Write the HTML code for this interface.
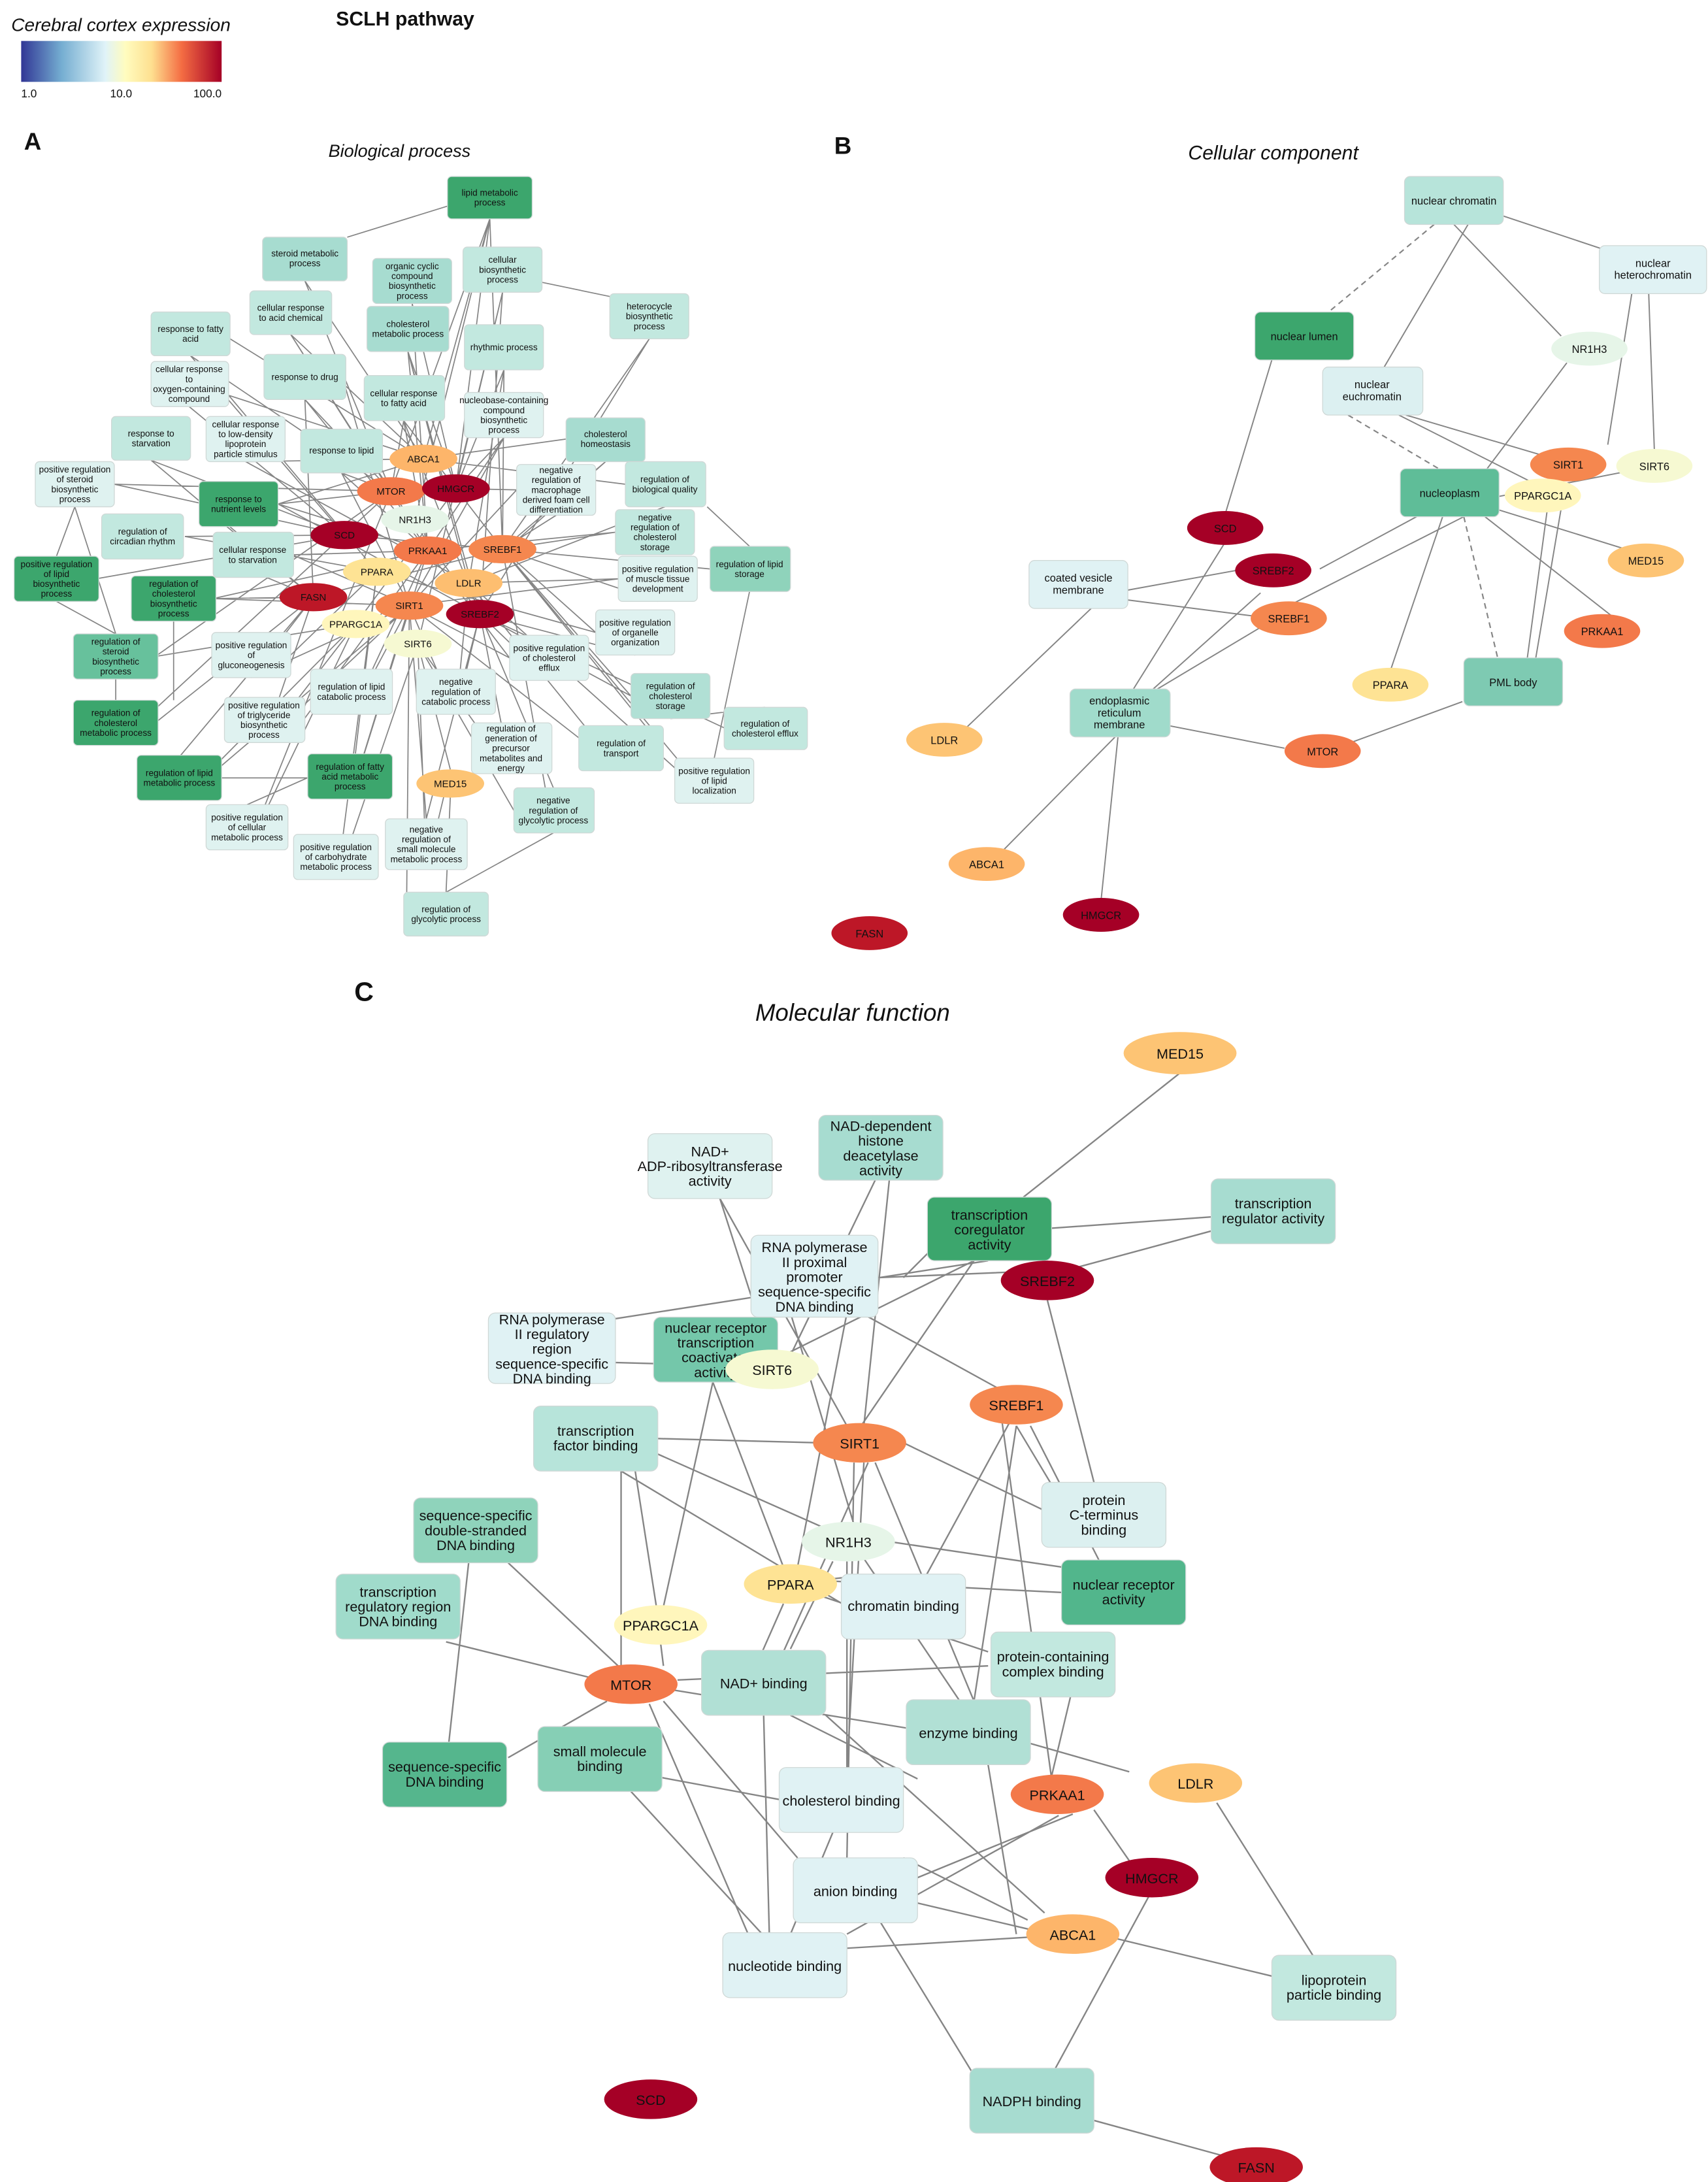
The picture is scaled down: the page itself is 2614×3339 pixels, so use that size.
<!DOCTYPE html>
<html><head><meta charset="utf-8"><style>
html,body{margin:0;padding:0;background:#fff}
svg{display:block}
text{font-family:"Liberation Sans",sans-serif;fill:#111}
.a{font-size:6.3px;text-anchor:middle}
.b{font-size:7.6px;text-anchor:middle}
.c{font-size:10px;text-anchor:middle}
.n{stroke:#cfd8d6;stroke-width:0.6}
</style></head><body>
<svg width="2614" height="3339" viewBox="0 0 1210 1545.6" preserveAspectRatio="none" xmlns="http://www.w3.org/2000/svg">
<defs>
<linearGradient id="cb" x1="0" x2="1" y1="0" y2="0">
<stop offset="0" stop-color="#313695"/><stop offset="0.2" stop-color="#74add1"/><stop offset="0.42" stop-color="#e0f3f8"/><stop offset="0.52" stop-color="#fffcbf"/><stop offset="0.65" stop-color="#fee090"/><stop offset="0.8" stop-color="#f46d43"/><stop offset="1" stop-color="#a50026"/>
</linearGradient>
</defs>
<rect width="1210" height="1546" fill="#fff"/>
<text x="8" y="22" style="font-size:13px;font-style:italic">Cerebral cortex expression</text>
<rect x="15" y="29" width="142" height="29" fill="url(#cb)"/>
<text x="15" y="69" style="font-size:8px">1.0</text>
<text x="78" y="69" style="font-size:8px">10.0</text>
<text x="137" y="69" style="font-size:8px">100.0</text>
<text x="238" y="18" style="font-size:14px;font-weight:bold">SCLH pathway</text>
<text x="17" y="106" style="font-size:17px;font-weight:bold">A</text>
<text x="283" y="111" style="font-size:12.5px;font-style:italic;text-anchor:middle">Biological process</text>
<text x="591" y="109" style="font-size:17px;font-weight:bold">B</text>
<text x="902" y="113" style="font-size:14px;font-style:italic;text-anchor:middle">Cellular component</text>
<text x="251" y="709" style="font-size:19px;font-weight:bold">C</text>
<text x="604" y="723" style="font-size:17px;font-style:italic;text-anchor:middle">Molecular function</text>

<!-- Panel A edges -->
<path fill="none" stroke="#858585" stroke-width="0.8" d="
M347 155L300 325M347 155L323 346M347 155L277 348M347 155L356 389M347 155L294 368M317 146L246 168
M216 199L300 325M216 199L277 348M292 215L323 346M292 215L303 390M356 207L323 346M356 207L340 435M384 200L432 210M356 207L296 456
M460 240L356 389M460 240L340 435M206 237L300 325M206 237L277 348M206 237L303 390
M135 252L277 348M135 252L244 379M163 240L300 325M289 249L323 346M289 249L332 413M289 249L340 435M289 249L303 390
M357 262L323 346M357 262L356 389M357 262L332 413M216 283L277 348M216 283L303 390M216 283L222 423M244 272L290 429
M134 288L244 379M162 280L300 325M162 280L267 405M286 298L277 348M286 298L303 390M286 298L356 389M286 298L340 435
M357 310L323 346M357 310L303 390M357 310L290 429M107 326L244 379M107 326L222 423M174 327L300 325M174 327L332 413
M242 335L277 348M242 335L303 390M242 335L290 429M429 327L332 413M429 327L356 389M401 311L300 325
M81 343L244 379M81 343L277 348M53 359L40 394M53 359L82 449M197 357L300 325M197 357L277 348M197 357L303 390M197 357L340 435M141 357L222 423
M394 365L356 389M366 347L323 346M366 347L290 429M471 359L332 413M443 343L300 325M501 359L531 387
M131 380L244 379M131 380L267 405M207 393L303 390M207 393L290 429M151 393L222 423
M436 377L356 389M436 377L303 390M466 426L356 389M438 410L332 413M438 410L290 429
M68 410L244 379M40 426L82 449M151 424L303 390M151 424L222 423M151 424L290 429M123 440L123 496
M531 419L506 537M503 403L356 389M422 448L356 389M422 448L267 405M450 464L340 435
M110 465L252 442M110 465L277 348M82 481L82 496M178 480L222 423M178 480L290 429M206 464L267 405
M389 482L340 435M361 466L290 429M361 466L303 390M323 506L290 429M323 506L340 435M323 506L332 413
M249 506L290 429M249 506L303 390M187 526L222 423M187 526L252 442M187 526L290 429M215 510L303 390
M475 509L475 477M447 493L340 435M447 493L356 389M82 528L277 348M110 512L222 423
M362 548L296 456M362 548L340 435M440 546L332 413M440 546L290 429M470 530L356 389M514 516L340 435M542 501L475 509
M506 569L356 389M506 569L332 413M128 567L290 429M156 551L220 551M128 567L252 442M128 535L222 423
M248 566L303 390M248 566L267 405M248 566L290 429M220 550L175 570M175 602L252 442M175 602L277 348
M239 623L296 456M239 623L267 405M302 616L296 456M302 616L319 545M302 580L290 429M302 580L340 435
M392 590L356 389M364 574L296 456M392 558L340 435M316 632L392 590M316 632L319 565M288 647L290 429M319 545L296 456
M244 379L356 389M277 348L340 435M222 423L356 389M252 442L323 346"/>

<!-- Panel A nodes -->
<g class="n">
<rect x="317" y="125" width="60" height="30" rx="3" fill="#3ca66d"/>
<rect x="186" y="168" width="60" height="31" rx="3" fill="#a7dcd0"/>
<rect x="264" y="183" width="56" height="32" rx="3" fill="#a7dcd0"/>
<rect x="328" y="175" width="56" height="32" rx="3" fill="#c2e8df"/>
<rect x="432" y="208" width="56" height="32" rx="3" fill="#c2e8df"/>
<rect x="177" y="206" width="58" height="31" rx="3" fill="#c2e8df"/>
<rect x="107" y="221" width="56" height="31" rx="3" fill="#c2e8df"/>
<rect x="260" y="217" width="58" height="32" rx="3" fill="#a7dcd0"/>
<rect x="329" y="230" width="56" height="32" rx="3" fill="#c2e8df"/>
<rect x="187" y="251" width="58" height="32" rx="3" fill="#c2e8df"/>
<rect x="107" y="256" width="55" height="32" rx="3" fill="#dff2f0"/>
<rect x="258" y="266" width="57" height="32" rx="3" fill="#c2e8df"/>
<rect x="329" y="278" width="56" height="32" rx="3" fill="#dff2f0"/>
<rect x="79" y="295" width="56" height="31" rx="3" fill="#c2e8df"/>
<rect x="146" y="295" width="56" height="32" rx="3" fill="#dff2f0"/>
<rect x="213" y="304" width="58" height="31" rx="3" fill="#c2e8df"/>
<rect x="401" y="296" width="56" height="31" rx="3" fill="#a7dcd0"/>
<rect x="25" y="327" width="56" height="32" rx="3" fill="#dff2f0"/>
<rect x="141" y="341" width="56" height="32" rx="3" fill="#3ca66d"/>
<rect x="366" y="329" width="56" height="36" rx="3" fill="#dff2f0"/>
<rect x="443" y="327" width="57" height="32" rx="3" fill="#c2e8df"/>
<rect x="72" y="364" width="58" height="32" rx="3" fill="#c2e8df"/>
<rect x="151" y="377" width="57" height="32" rx="3" fill="#c2e8df"/>
<rect x="436" y="361" width="56" height="32" rx="3" fill="#c2e8df"/>
<rect x="10" y="394" width="60" height="32" rx="3" fill="#3ca66d"/>
<rect x="93" y="408" width="60" height="32" rx="3" fill="#3ca66d"/>
<rect x="438" y="394" width="56" height="32" rx="3" fill="#dff2f0"/>
<rect x="503" y="387" width="57" height="32" rx="3" fill="#8fd3bb"/>
<rect x="422" y="432" width="56" height="32" rx="3" fill="#dff2f0"/>
<rect x="52" y="449" width="60" height="32" rx="3" fill="#67c19c"/>
<rect x="150" y="448" width="56" height="32" rx="3" fill="#dff2f0"/>
<rect x="361" y="450" width="56" height="32" rx="3" fill="#dff2f0"/>
<rect x="295" y="474" width="56" height="32" rx="3" fill="#dff2f0"/>
<rect x="220" y="474" width="58" height="32" rx="3" fill="#dff2f0"/>
<rect x="159" y="494" width="57" height="32" rx="3" fill="#dff2f0"/>
<rect x="447" y="477" width="56" height="32" rx="3" fill="#b1e0d5"/>
<rect x="52" y="496" width="60" height="32" rx="3" fill="#3ca66d"/>
<rect x="334" y="512" width="57" height="36" rx="3" fill="#dff2f0"/>
<rect x="410" y="514" width="60" height="32" rx="3" fill="#c2e8df"/>
<rect x="513" y="501" width="59" height="30" rx="3" fill="#c2e8df"/>
<rect x="478" y="537" width="56" height="32" rx="3" fill="#dff2f0"/>
<rect x="97" y="535" width="60" height="32" rx="3" fill="#3ca66d"/>
<rect x="218" y="534" width="60" height="32" rx="3" fill="#3ca66d"/>
<rect x="146" y="570" width="58" height="32" rx="3" fill="#dff2f0"/>
<rect x="208" y="591" width="60" height="32" rx="3" fill="#dff2f0"/>
<rect x="273" y="580" width="58" height="36" rx="3" fill="#dff2f0"/>
<rect x="364" y="558" width="57" height="32" rx="3" fill="#c2e8df"/>
<rect x="286" y="632" width="60" height="31" rx="3" fill="#c2e8df"/>
</g>
<g>
<text class="a" x="347" y="138.7">lipid metabolic<tspan x="347" dy="7">process</tspan></text>
<text class="a" x="216" y="181.7">steroid metabolic<tspan x="216" dy="7">process</tspan></text>
<text class="a" x="292" y="190.7">organic cyclic<tspan x="292" dy="7">compound</tspan><tspan x="292" dy="7">biosynthetic</tspan><tspan x="292" dy="7">process</tspan></text>
<text class="a" x="356" y="186.2">cellular<tspan x="356" dy="7">biosynthetic</tspan><tspan x="356" dy="7">process</tspan></text>
<text class="a" x="460" y="219.2">heterocycle<tspan x="460" dy="7">biosynthetic</tspan><tspan x="460" dy="7">process</tspan></text>
<text class="a" x="206" y="220.2">cellular response<tspan x="206" dy="7">to acid chemical</tspan></text>
<text class="a" x="135" y="235.2">response to fatty<tspan x="135" dy="7">acid</tspan></text>
<text class="a" x="289" y="231.7">cholesterol<tspan x="289" dy="7">metabolic process</tspan></text>
<text class="a" x="357" y="248.2">rhythmic process</text>
<text class="a" x="216" y="269.2">response to drug</text>
<text class="a" x="134" y="263.7">cellular response<tspan x="134" dy="7">to</tspan><tspan x="134" dy="7">oxygen-containing</tspan><tspan x="134" dy="7">compound</tspan></text>
<text class="a" x="286" y="280.7">cellular response<tspan x="286" dy="7">to fatty acid</tspan></text>
<text class="a" x="357" y="285.7">nucleobase-containing<tspan x="357" dy="7">compound</tspan><tspan x="357" dy="7">biosynthetic</tspan><tspan x="357" dy="7">process</tspan></text>
<text class="a" x="107" y="309.2">response to<tspan x="107" dy="7">starvation</tspan></text>
<text class="a" x="174" y="302.7">cellular response<tspan x="174" dy="7">to low-density</tspan><tspan x="174" dy="7">lipoprotein</tspan><tspan x="174" dy="7">particle stimulus</tspan></text>
<text class="a" x="242" y="321.2">response to lipid</text>
<text class="a" x="429" y="309.7">cholesterol<tspan x="429" dy="7">homeostasis</tspan></text>
<text class="a" x="53" y="334.7">positive regulation<tspan x="53" dy="7">of steroid</tspan><tspan x="53" dy="7">biosynthetic</tspan><tspan x="53" dy="7">process</tspan></text>
<text class="a" x="169" y="355.7">response to<tspan x="169" dy="7">nutrient levels</tspan></text>
<text class="a" x="394" y="335.2">negative<tspan x="394" dy="7">regulation of</tspan><tspan x="394" dy="7">macrophage</tspan><tspan x="394" dy="7">derived foam cell</tspan><tspan x="394" dy="7">differentiation</tspan></text>
<text class="a" x="471" y="341.7">regulation of<tspan x="471" dy="7">biological quality</tspan></text>
<text class="a" x="101" y="378.7">regulation of<tspan x="101" dy="7">circadian rhythm</tspan></text>
<text class="a" x="179" y="391.7">cellular response<tspan x="179" dy="7">to starvation</tspan></text>
<text class="a" x="464" y="368.7">negative<tspan x="464" dy="7">regulation of</tspan><tspan x="464" dy="7">cholesterol</tspan><tspan x="464" dy="7">storage</tspan></text>
<text class="a" x="40" y="401.7">positive regulation<tspan x="40" dy="7">of lipid</tspan><tspan x="40" dy="7">biosynthetic</tspan><tspan x="40" dy="7">process</tspan></text>
<text class="a" x="123" y="415.7">regulation of<tspan x="123" dy="7">cholesterol</tspan><tspan x="123" dy="7">biosynthetic</tspan><tspan x="123" dy="7">process</tspan></text>
<text class="a" x="466" y="405.2">positive regulation<tspan x="466" dy="7">of muscle tissue</tspan><tspan x="466" dy="7">development</tspan></text>
<text class="a" x="531" y="401.7">regulation of lipid<tspan x="531" dy="7">storage</tspan></text>
<text class="a" x="450" y="443.2">positive regulation<tspan x="450" dy="7">of organelle</tspan><tspan x="450" dy="7">organization</tspan></text>
<text class="a" x="82" y="456.7">regulation of<tspan x="82" dy="7">steroid</tspan><tspan x="82" dy="7">biosynthetic</tspan><tspan x="82" dy="7">process</tspan></text>
<text class="a" x="178" y="459.2">positive regulation<tspan x="178" dy="7">of</tspan><tspan x="178" dy="7">gluconeogenesis</tspan></text>
<text class="a" x="389" y="461.2">positive regulation<tspan x="389" dy="7">of cholesterol</tspan><tspan x="389" dy="7">efflux</tspan></text>
<text class="a" x="323" y="485.2">negative<tspan x="323" dy="7">regulation of</tspan><tspan x="323" dy="7">catabolic process</tspan></text>
<text class="a" x="249" y="488.7">regulation of lipid<tspan x="249" dy="7">catabolic process</tspan></text>
<text class="a" x="187" y="501.7">positive regulation<tspan x="187" dy="7">of triglyceride</tspan><tspan x="187" dy="7">biosynthetic</tspan><tspan x="187" dy="7">process</tspan></text>
<text class="a" x="475" y="488.2">regulation of<tspan x="475" dy="7">cholesterol</tspan><tspan x="475" dy="7">storage</tspan></text>
<text class="a" x="82" y="507.2">regulation of<tspan x="82" dy="7">cholesterol</tspan><tspan x="82" dy="7">metabolic process</tspan></text>
<text class="a" x="362" y="518.2">regulation of<tspan x="362" dy="7">generation of</tspan><tspan x="362" dy="7">precursor</tspan><tspan x="362" dy="7">metabolites and</tspan><tspan x="362" dy="7">energy</tspan></text>
<text class="a" x="440" y="528.7">regulation of<tspan x="440" dy="7">transport</tspan></text>
<text class="a" x="542" y="514.7">regulation of<tspan x="542" dy="7">cholesterol efflux</tspan></text>
<text class="a" x="506" y="548.2">positive regulation<tspan x="506" dy="7">of lipid</tspan><tspan x="506" dy="7">localization</tspan></text>
<text class="a" x="127" y="549.7">regulation of lipid<tspan x="127" dy="7">metabolic process</tspan></text>
<text class="a" x="248" y="545.2">regulation of fatty<tspan x="248" dy="7">acid metabolic</tspan><tspan x="248" dy="7">process</tspan></text>
<text class="a" x="175" y="581.2">positive regulation<tspan x="175" dy="7">of cellular</tspan><tspan x="175" dy="7">metabolic process</tspan></text>
<text class="a" x="238" y="602.2">positive regulation<tspan x="238" dy="7">of carbohydrate</tspan><tspan x="238" dy="7">metabolic process</tspan></text>
<text class="a" x="302" y="589.7">negative<tspan x="302" dy="7">regulation of</tspan><tspan x="302" dy="7">small molecule</tspan><tspan x="302" dy="7">metabolic process</tspan></text>
<text class="a" x="392" y="569.2">negative<tspan x="392" dy="7">regulation of</tspan><tspan x="392" dy="7">glycolytic process</tspan></text>
<text class="a" x="316" y="646.2">regulation of<tspan x="316" dy="7">glycolytic process</tspan></text>
</g>
<!-- A genes -->
<g>
<ellipse cx="300" cy="325" rx="24" ry="10" fill="#fdb56a"/><text class="a" x="300" y="327.5" style="font-size:7px">ABCA1</text>
<ellipse cx="277" cy="348" rx="24" ry="10" fill="#f3794a"/><text class="a" x="277" y="350.5" style="font-size:7px">MTOR</text>
<ellipse cx="323" cy="346" rx="24" ry="10" fill="#a50026"/><text class="a" x="323" y="348.5" style="font-size:7px">HMGCR</text>
<ellipse cx="294" cy="368" rx="24" ry="10" fill="#e6f5e8"/><text class="a" x="294" y="370.5" style="font-size:7px">NR1H3</text>
<ellipse cx="244" cy="379" rx="24" ry="10" fill="#a50026"/><text class="a" x="244" y="381.5" style="font-size:7px">SCD</text>
<ellipse cx="303" cy="390" rx="24" ry="10" fill="#f3794a"/><text class="a" x="303" y="392.5" style="font-size:7px">PRKAA1</text>
<ellipse cx="356" cy="389" rx="24" ry="10" fill="#f5874f"/><text class="a" x="356" y="391.5" style="font-size:7px">SREBF1</text>
<ellipse cx="267" cy="405" rx="24" ry="10" fill="#fee394"/><text class="a" x="267" y="407.5" style="font-size:7px">PPARA</text>
<ellipse cx="332" cy="413" rx="24" ry="10" fill="#fdbe70"/><text class="a" x="332" y="415.5" style="font-size:7px">LDLR</text>
<ellipse cx="222" cy="423" rx="24" ry="10" fill="#bd1727"/><text class="a" x="222" y="425.5" style="font-size:7px">FASN</text>
<ellipse cx="290" cy="429" rx="24" ry="10" fill="#f5874f"/><text class="a" x="290" y="431.5" style="font-size:7px">SIRT1</text>
<ellipse cx="340" cy="435" rx="24" ry="10" fill="#a50026"/><text class="a" x="340" y="437.5" style="font-size:7px">SREBF2</text>
<ellipse cx="252" cy="442" rx="24" ry="10" fill="#fff6bc"/><text class="a" x="252" y="444.5" style="font-size:7px">PPARGC1A</text>
<ellipse cx="296" cy="456" rx="24" ry="10" fill="#f6f9d2"/><text class="a" x="296" y="458.5" style="font-size:7px">SIRT6</text>
<ellipse cx="319" cy="555" rx="24" ry="10" fill="#fdc474"/><text class="a" x="319" y="557.5" style="font-size:7px">MED15</text>
</g>

<!-- Panel B edges -->
<path fill="none" stroke="#858585" stroke-width="0.9" d="
M1065 153L1134 176M1040 159L980 261M1030 159L1106 238M1156 208L1139 315M1168 208L1172 319
M901 255L868 364M996 294L1101 325M991 294L1090 344M1110 257L1052 334M1035 349L935 403
M1037 366L915 428M1022 366L985 475M1052 366L1144 438M1058 360L1158 391M1060 352L1152 334
M1096 362L1082 466M1106 360L1088 466M799 418L876 404M799 425L893 437M773 431L685 515
M803 488L868 384M817 488L893 420M820 488L892 445M828 514L910 530M957 526L1036 497M790 522L710 603M792 522L780 638"/>
<path fill="none" stroke="#858585" stroke-width="1" stroke-dasharray="4,3" d="M1016 159L940 222M955 294L1026 336M1037 366L1061 466"/>
<g class="n">
<rect x="995" y="125" width="70" height="34" rx="4" fill="#b7e4da"/>
<rect x="1133" y="174" width="76" height="34" rx="4" fill="#e0f2f4"/>
<rect x="889" y="221" width="70" height="34" rx="4" fill="#3ca66d"/>
<rect x="937" y="260" width="71" height="34" rx="4" fill="#dcf0f1"/>
<rect x="992" y="332" width="70" height="34" rx="4" fill="#5fbd98"/>
<rect x="729" y="397" width="70" height="34" rx="4" fill="#e0f2f4"/>
<rect x="1037" y="466" width="70" height="34" rx="4" fill="#7ecab2"/>
<rect x="758" y="488" width="71" height="34" rx="4" fill="#a0dbcb"/>
</g>
<text class="b" x="1030" y="145">nuclear chromatin</text>
<text class="b" x="1171" y="189">nuclear<tspan x="1171" dy="8.5">heterochromatin</tspan></text>
<text class="b" x="924" y="241">nuclear lumen</text>
<text class="b" x="972" y="275">nuclear<tspan x="972" dy="8.5">euchromatin</tspan></text>
<text class="b" x="1027" y="352">nucleoplasm</text>
<text class="b" x="764" y="412">coated vesicle<tspan x="764" dy="8.5">membrane</tspan></text>
<text class="b" x="1072" y="486">PML body</text>
<text class="b" x="793" y="499">endoplasmic<tspan x="793" dy="8.5">reticulum</tspan><tspan x="793" dy="8.5">membrane</tspan></text>
<g>
<ellipse cx="1126" cy="247" rx="27" ry="12" fill="#e6f5e8"/><text class="b" x="1126" y="250">NR1H3</text>
<ellipse cx="1111" cy="329" rx="27" ry="12" fill="#f5874f"/><text class="b" x="1111" y="332">SIRT1</text>
<ellipse cx="1172" cy="330" rx="27" ry="12" fill="#f6f9d2"/><text class="b" x="1172" y="333">SIRT6</text>
<ellipse cx="1093" cy="351" rx="27" ry="12" fill="#fff6bc"/><text class="b" x="1093" y="354">PPARGC1A</text>
<ellipse cx="868" cy="374" rx="27" ry="12" fill="#a50026"/><text class="b" x="868" y="377">SCD</text>
<ellipse cx="1166" cy="397" rx="27" ry="12" fill="#fdc474"/><text class="b" x="1166" y="400">MED15</text>
<ellipse cx="902" cy="404" rx="27" ry="12" fill="#a50026"/><text class="b" x="902" y="407">SREBF2</text>
<ellipse cx="913" cy="438" rx="27" ry="12" fill="#f5874f"/><text class="b" x="913" y="441">SREBF1</text>
<ellipse cx="1135" cy="447" rx="27" ry="12" fill="#f3794a"/><text class="b" x="1135" y="450">PRKAA1</text>
<ellipse cx="985" cy="485" rx="27" ry="12" fill="#fee394"/><text class="b" x="985" y="488">PPARA</text>
<ellipse cx="669" cy="524" rx="27" ry="12" fill="#fdc474"/><text class="b" x="669" y="527">LDLR</text>
<ellipse cx="937" cy="532" rx="27" ry="12" fill="#f3794a"/><text class="b" x="937" y="535">MTOR</text>
<ellipse cx="699" cy="612" rx="27" ry="12" fill="#fdb56a"/><text class="b" x="699" y="615">ABCA1</text>
<ellipse cx="780" cy="648" rx="27" ry="12" fill="#a50026"/><text class="b" x="780" y="651">HMGCR</text>
<ellipse cx="616" cy="661" rx="27" ry="12" fill="#bd1727"/><text class="b" x="616" y="664">FASN</text>
</g>

<!-- Panel C edges -->
<path fill="none" stroke="#858585" stroke-width="1.1" d="
M836 760L725 848M745 870L858 862M858 872L762 898M700 893L430 935M690 893L555 960M690 893L610 1010M665 880L640 905
M510 849L545 958M510 849L600 1010M620 836L560 960M630 836L612 1010M622 905L742 900M610 930L710 985M600 930L565 1110M560 930L605 1080M540 935L548 960
M430 965L540 968M505 979L470 1138M505 979L555 1110M466 1019L580 1022M450 1042L465 1138M440 1042L440 1180M466 1030L590 1085M440 1042L600 1138
M720 1010L750 1060M720 1010L690 1205M715 1008L655 1118M730 1010L780 1108M710 1008L745 1260M742 921L775 1050M640 1022L740 1070M615 1036L555 1170M620 1036L690 1205M612 1036L600 1255M605 1036L600 1316
M630 1092L752 1110M600 1106L600 1255M612 1104L680 1205M590 1106L560 1168M590 1120L752 1128M580 1130L700 1170M555 1136L540 1170M575 1120L620 1115
M468 1164L470 1180M316 1163L425 1190M360 1107L440 1182M332 1107L318 1234M360 1245L430 1205M480 1190L700 1180M470 1205L565 1316M460 1207L530 1370M470 1196L642 1224
M468 1259L554 1275M447 1269L540 1370M541 1215L545 1370M560 1215L650 1260M585 1215L740 1355M730 1235L800 1255M700 1250L720 1370M760 1195L745 1258
M760 1285L650 1330M750 1286L600 1370M775 1282L800 1318M814 1343L745 1470M650 1348L735 1368M600 1380L732 1372M790 1373L902 1400M862 1277L930 1385M640 1316L728 1360M624 1362L690 1470M775 1502L870 1528M590 1298L560 1370"/>
<g class="n">
<rect x="459" y="803" width="88" height="46" rx="5" fill="#dff2f0"/>
<rect x="580" y="790" width="88" height="46" rx="5" fill="#a7dcd0"/>
<rect x="858" y="835" width="88" height="46" rx="5" fill="#a7dcd0"/>
<rect x="657" y="848" width="88" height="45" rx="5" fill="#3ca66d"/>
<rect x="532" y="875" width="90" height="58" rx="5" fill="#e0f2f4"/>
<rect x="346" y="930" width="90" height="50" rx="5" fill="#e0f2f4"/>
<rect x="463" y="933" width="88" height="46" rx="5" fill="#74c7aa"/>
<rect x="378" y="996" width="88" height="46" rx="5" fill="#b7e4da"/>
<rect x="738" y="1050" width="88" height="46" rx="5" fill="#dcf0f0"/>
<rect x="293" y="1061" width="88" height="46" rx="5" fill="#8fd3bb"/>
<rect x="752" y="1105" width="88" height="46" rx="5" fill="#52b68c"/>
<rect x="596" y="1115" width="88" height="46" rx="5" fill="#e0f2f4"/>
<rect x="238" y="1115" width="88" height="46" rx="5" fill="#a0dbcb"/>
<rect x="702" y="1156" width="88" height="46" rx="5" fill="#c2e8df"/>
<rect x="497" y="1169" width="88" height="46" rx="5" fill="#b1e0d5"/>
<rect x="642" y="1204" width="88" height="46" rx="5" fill="#b1e0d5"/>
<rect x="271" y="1234" width="88" height="46" rx="5" fill="#55b68d"/>
<rect x="381" y="1223" width="88" height="46" rx="5" fill="#86cfb5"/>
<rect x="552" y="1252" width="88" height="46" rx="5" fill="#e0f2f4"/>
<rect x="562" y="1316" width="88" height="46" rx="5" fill="#e0f2f4"/>
<rect x="512" y="1369" width="88" height="46" rx="5" fill="#e0f2f4"/>
<rect x="901" y="1385" width="88" height="46" rx="5" fill="#c2e8df"/>
<rect x="687" y="1465" width="88" height="46" rx="5" fill="#a7dcd0"/>
</g>
<text class="c" x="503" y="819">NAD+<tspan x="503" dy="10.5">ADP-ribosyltransferase</tspan><tspan x="503" dy="10.5">activity</tspan></text>
<text class="c" x="624" y="801">NAD-dependent<tspan x="624" dy="10.5">histone</tspan><tspan x="624" dy="10.5">deacetylase</tspan><tspan x="624" dy="10.5">activity</tspan></text>
<text class="c" x="902" y="856">transcription<tspan x="902" dy="10.5">regulator activity</tspan></text>
<text class="c" x="701" y="864">transcription<tspan x="701" dy="10.5">coregulator</tspan><tspan x="701" dy="10.5">activity</tspan></text>
<text class="c" x="577" y="887">RNA polymerase<tspan x="577" dy="10.5">II proximal</tspan><tspan x="577" dy="10.5">promoter</tspan><tspan x="577" dy="10.5">sequence-specific</tspan><tspan x="577" dy="10.5">DNA binding</tspan></text>
<text class="c" x="391" y="938">RNA polymerase<tspan x="391" dy="10.5">II regulatory</tspan><tspan x="391" dy="10.5">region</tspan><tspan x="391" dy="10.5">sequence-specific</tspan><tspan x="391" dy="10.5">DNA binding</tspan></text>
<text class="c" x="507" y="944">nuclear receptor<tspan x="507" dy="10.5">transcription</tspan><tspan x="507" dy="10.5">coactivator</tspan><tspan x="507" dy="10.5">activity</tspan></text>
<text class="c" x="422" y="1017">transcription<tspan x="422" dy="10.5">factor binding</tspan></text>
<text class="c" x="782" y="1066">protein<tspan x="782" dy="10.5">C-terminus</tspan><tspan x="782" dy="10.5">binding</tspan></text>
<text class="c" x="337" y="1077">sequence-specific<tspan x="337" dy="10.5">double-stranded</tspan><tspan x="337" dy="10.5">DNA binding</tspan></text>
<text class="c" x="796" y="1126">nuclear receptor<tspan x="796" dy="10.5">activity</tspan></text>
<text class="c" x="640" y="1141">chromatin binding</text>
<text class="c" x="282" y="1131">transcription<tspan x="282" dy="10.5">regulatory region</tspan><tspan x="282" dy="10.5">DNA binding</tspan></text>
<text class="c" x="746" y="1177">protein-containing<tspan x="746" dy="10.5">complex binding</tspan></text>
<text class="c" x="541" y="1196">NAD+ binding</text>
<text class="c" x="686" y="1231">enzyme binding</text>
<text class="c" x="315" y="1255">sequence-specific<tspan x="315" dy="10.5">DNA binding</tspan></text>
<text class="c" x="425" y="1244">small molecule<tspan x="425" dy="10.5">binding</tspan></text>
<text class="c" x="596" y="1279">cholesterol binding</text>
<text class="c" x="606" y="1343">anion binding</text>
<text class="c" x="556" y="1396">nucleotide binding</text>
<text class="c" x="945" y="1406">lipoprotein<tspan x="945" dy="10.5">particle binding</tspan></text>
<text class="c" x="731" y="1492">NADPH binding</text>
<g>
<ellipse cx="836" cy="746" rx="40" ry="15" fill="#fdc474"/><text class="c" x="836" y="750">MED15</text>
<ellipse cx="742" cy="907" rx="33" ry="14" fill="#a50026"/><text class="c" x="742" y="911">SREBF2</text>
<ellipse cx="547" cy="970" rx="33" ry="14" fill="#f6f9d2"/><text class="c" x="547" y="974">SIRT6</text>
<ellipse cx="720" cy="995" rx="33" ry="14" fill="#f5874f"/><text class="c" x="720" y="999">SREBF1</text>
<ellipse cx="609" cy="1022" rx="33" ry="14" fill="#f5874f"/><text class="c" x="609" y="1026">SIRT1</text>
<ellipse cx="601" cy="1092" rx="33" ry="14" fill="#e6f5e8"/><text class="c" x="601" y="1096">NR1H3</text>
<ellipse cx="560" cy="1122" rx="33" ry="14" fill="#fee394"/><text class="c" x="560" y="1126">PPARA</text>
<ellipse cx="468" cy="1151" rx="33" ry="14" fill="#fff6bc"/><text class="c" x="468" y="1155">PPARGC1A</text>
<ellipse cx="447" cy="1193" rx="33" ry="14" fill="#f3794a"/><text class="c" x="447" y="1197">MTOR</text>
<ellipse cx="847" cy="1263" rx="33" ry="14" fill="#fdc474"/><text class="c" x="847" y="1267">LDLR</text>
<ellipse cx="749" cy="1271" rx="33" ry="14" fill="#f3794a"/><text class="c" x="749" y="1275">PRKAA1</text>
<ellipse cx="816" cy="1330" rx="33" ry="14" fill="#a50026"/><text class="c" x="816" y="1334">HMGCR</text>
<ellipse cx="760" cy="1370" rx="33" ry="14" fill="#fdb56a"/><text class="c" x="760" y="1374">ABCA1</text>
<ellipse cx="461" cy="1487" rx="33" ry="14" fill="#a50026"/><text class="c" x="461" y="1491">SCD</text>
<ellipse cx="890" cy="1535" rx="33" ry="14" fill="#bd1727"/><text class="c" x="890" y="1539">FASN</text>
</g>
</svg>
</body></html>
